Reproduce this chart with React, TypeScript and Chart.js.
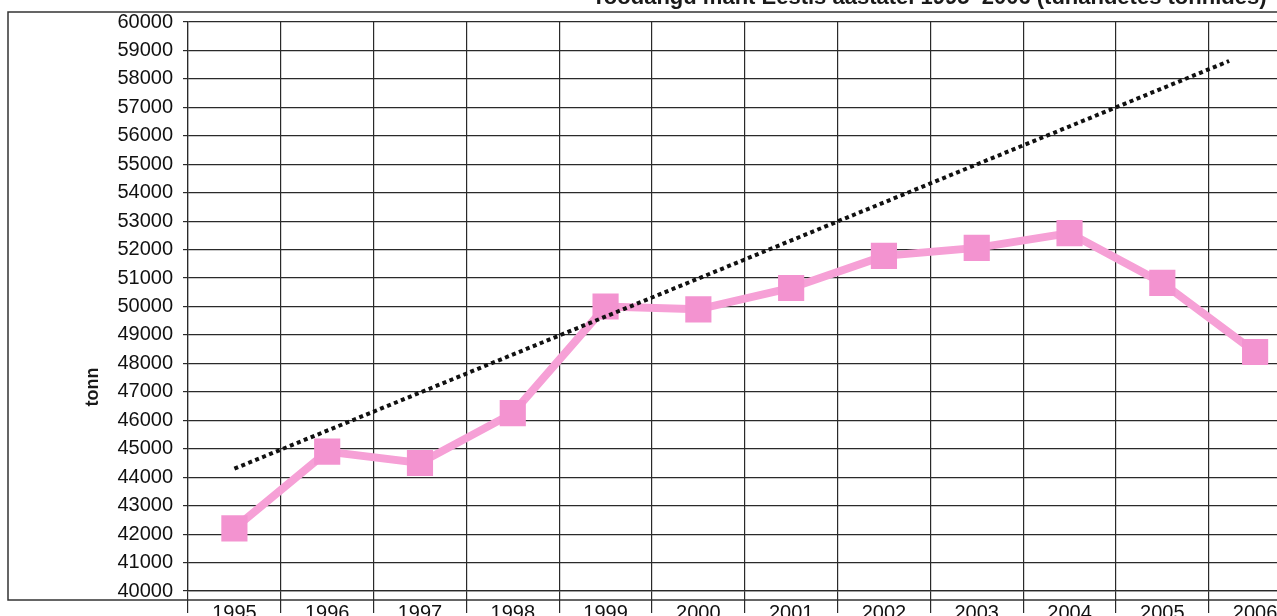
import React, { useEffect, useRef } from "react";
import { Chart, registerables } from "chart.js";

Chart.register(...registerables);

const years = ["1995", "1996", "1997", "1998", "1999", "2000", "2001", "2002", "2003", "2004", "2005", "2006"];
const production = [42200, 44900, 44500, 46250, 50000, 49900, 50650, 51780, 52060, 52580, 50830, 48400];
const trendX = [0, 10.72];
const trendY = [44300, 58630];
const yTicks = { min: 40000, max: 60000, step: 1000 };
const chartTitle = "Toodangu maht Eestis aastatel 1995–2006 (tuhandetes tonnides)";
const axisTitle = "tonn";

const FONT = '"Liberation Sans", Arial, Helvetica, sans-serif';

const decorPlugin = {
  id: "decor",
  beforeDraw(chart: any) {
    const { ctx, chartArea } = chart;
    ctx.save();
    ctx.fillStyle = "#ffffff";
    ctx.fillRect(0, 0, chart.width, chart.height);
    ctx.strokeStyle = "#333333";
    ctx.lineWidth = 1.5;
    ctx.strokeRect(chartArea.left - 180, chartArea.top - 10, chart.width, chartArea.bottom - chartArea.top + 19);
    ctx.restore();
  },
  afterDraw(chart: any) {
    const { ctx, chartArea } = chart;
    ctx.save();
    ctx.fillStyle = "#1a1a1a";
    ctx.font = `bold 22px ${FONT}`;
    ctx.textAlign = "right";
    ctx.textBaseline = "alphabetic";
    ctx.fillText(chartTitle, chartArea.right - 35, chartArea.top - 18);
    ctx.translate(chartArea.left - 95, chartArea.top + 365);
    ctx.rotate(-Math.PI / 2);
    ctx.font = `bold 18px ${FONT}`;
    ctx.textAlign = "center";
    ctx.textBaseline = "middle";
    ctx.fillText(axisTitle, 0, 0);
    ctx.restore();
  },
};

export default function App() {
  const canvasRef = useRef<HTMLCanvasElement | null>(null);

  useEffect(() => {
    if (!canvasRef.current) return;
    const gridColor = "#2a2a2a";
    const chart = new Chart(canvasRef.current, {
      type: "line",
      data: {
        labels: years,
        datasets: [
          {
            label: "trend",
            data: trendX.map((x, i) => ({ x, y: trendY[i] })),
            xAxisID: "xTrend",
            yAxisID: "y",
            borderColor: "#111111",
            borderWidth: 4,
            borderDash: [4, 3.5],
            borderCapStyle: "butt",
            pointRadius: 0,
            fill: false,
            order: 0,
          } as any,
          {
            label: "tonn",
            data: production,
            xAxisID: "x",
            yAxisID: "y",
            borderColor: "#f6a0d6",
            borderWidth: 8,
            pointStyle: "rect",
            pointRadius: 18.5,
            pointBackgroundColor: "#f393d0",
            pointBorderColor: "#f393d0",
            pointBorderWidth: 0,
            tension: 0,
            fill: false,
            order: 1,
          } as any,
        ],
      },
      options: {
        responsive: false,
        animation: false,
        devicePixelRatio: 1,
        layout: { padding: { left: 0, top: 22, right: 17, bottom: 19 } },
        plugins: {
          legend: { display: false },
          title: { display: false },
          tooltip: { enabled: false },
        },
        scales: {
          x: {
            type: "category",
            offset: true,
            grid: {
              offset: true,
              color: gridColor,
              lineWidth: 1.2,
              tickLength: 22,
              tickColor: gridColor,
            },
            border: { display: true, color: gridColor, width: 1.2 },
            ticks: {
              color: "#111111",
              font: { family: FONT, size: 20 },
              padding: -12,
              maxRotation: 0,
              autoSkip: false,
            },
            afterFit: (scale: any) => {
              scale.height = 40;
            },
          },
          xTrend: {
            type: "linear",
            display: false,
            min: -0.5,
            max: years.length - 0.5,
          },
          y: {
            type: "linear",
            min: yTicks.min,
            max: yTicks.max,
            grid: {
              color: gridColor,
              lineWidth: 1.2,
              tickLength: 5,
              tickColor: gridColor,
            },
            border: { display: true, color: gridColor, width: 1.2 },
            ticks: {
              stepSize: yTicks.step,
              color: "#111111",
              font: { family: FONT, size: 20 },
              padding: 10,
              callback: (v: any) => String(v),
            },
            afterFit: (scale: any) => {
              scale.width = 188;
            },
          },
        },
      } as any,
      plugins: [decorPlugin],
    });
    return () => chart.destroy();
  }, []);

  return (
    <div
      style={{
        position: "fixed",
        left: 0,
        top: 0,
        width: 1277,
        height: 616,
        overflow: "hidden",
        background: "#ffffff",
      }}
    >
      <canvas
        ref={canvasRef}
        width={1320}
        height={650}
        style={{ position: "absolute", left: 0, top: 0, width: 1320, height: 650, display: "block" }}
      />
    </div>
  );
}
